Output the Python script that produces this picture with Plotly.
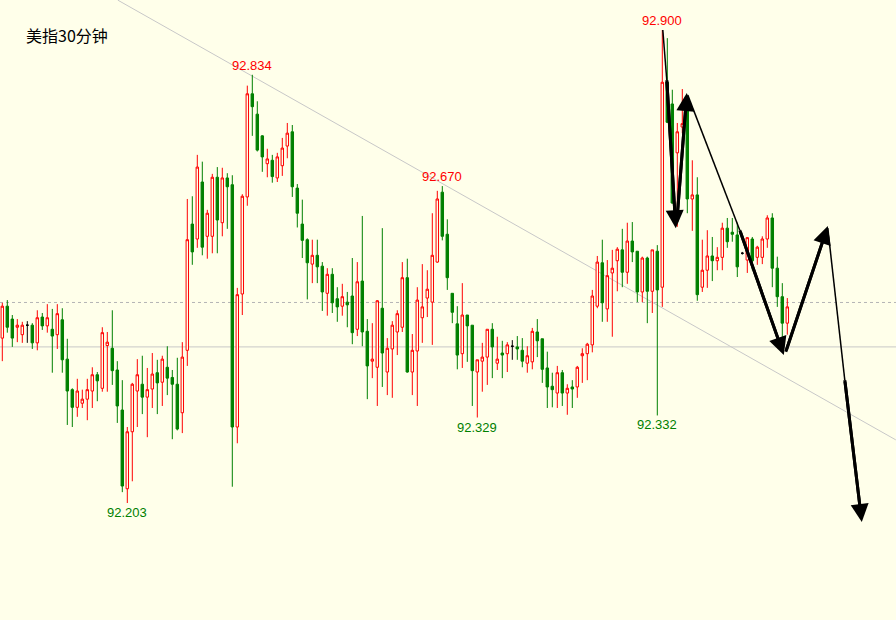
import plotly.graph_objects as go

# ---------------- data (30-minute USD index candles) ----------------
title_text = "美指30分钟"

open_ = [92.446, 92.493, 92.474, 92.462, 92.451, 92.465, 92.465, 92.439, 92.477, 92.464,
         92.459, 92.451, 92.473, 92.415, 92.370, 92.344, 92.350, 92.356, 92.368, 92.392,
         92.372, 92.435, 92.431, 92.399, 92.340, 92.224, 92.308, 92.368, 92.378, 92.359,
         92.371, 92.395, 92.381, 92.403, 92.388, 92.378, 92.336, 92.428, 92.614, 92.592,
         92.676, 92.596, 92.596, 92.683, 92.616, 92.682, 92.672, 92.315, 92.511, 92.654,
         92.806, 92.776, 92.744, 92.703, 92.708, 92.682, 92.700, 92.729, 92.750, 92.667,
         92.614, 92.591, 92.555, 92.568, 92.552, 92.512, 92.540, 92.504, 92.493, 92.499,
         92.508, 92.459, 92.530, 92.456, 92.412, 92.403, 92.490, 92.396, 92.430, 92.455,
         92.462, 92.535, 92.396, 92.427, 92.476, 92.505, 92.499, 92.558, 92.661, 92.599,
         92.512, 92.467, 92.423, 92.480, 92.465, 92.396, 92.412, 92.418, 92.459, 92.409,
         92.424, 92.423, 92.434, 92.433, 92.428, 92.409, 92.411, 92.455, 92.445, 92.402,
         92.375, 92.365, 92.395, 92.365, 92.374, 92.374, 92.420, 92.423, 92.436, 92.493,
         92.557, 92.489, 92.542, 92.560, 92.576, 92.543, 92.589, 92.574, 92.514, 92.564,
         92.515, 92.574, 92.521, 92.823, 92.791, 92.719, 92.757, 92.792, 92.651, 92.657,
         92.521, 92.546, 92.567, 92.560, 92.565, 92.608, 92.602, 92.598, 92.571, 92.561,
         92.592, 92.565, 92.565, 92.592, 92.623, 92.549, 92.507, 92.468]

high = [92.498, 92.502, 92.480, 92.474, 92.470, 92.471, 92.468, 92.487, 92.483, 92.496,
        92.489, 92.496, 92.490, 92.445, 92.372, 92.386, 92.370, 92.386, 92.403, 92.396,
        92.462, 92.455, 92.487, 92.412, 92.384, 92.315, 92.380, 92.415, 92.420, 92.402,
        92.424, 92.414, 92.420, 92.434, 92.399, 92.417, 92.440, 92.651, 92.655, 92.716,
        92.706, 92.635, 92.688, 92.698, 92.697, 92.689, 92.686, 92.520, 92.658, 92.818,
        92.834, 92.795, 92.745, 92.725, 92.716, 92.719, 92.741, 92.763, 92.760, 92.673,
        92.650, 92.593, 92.591, 92.591, 92.558, 92.549, 92.549, 92.521, 92.526, 92.514,
        92.564, 92.558, 92.626, 92.474, 92.468, 92.502, 92.608, 92.446, 92.471, 92.487,
        92.558, 92.563, 92.452, 92.521, 92.555, 92.546, 92.630, 92.663, 92.670, 92.621,
        92.512, 92.493, 92.527, 92.480, 92.465, 92.414, 92.439, 92.459, 92.468, 92.448,
        92.442, 92.440, 92.443, 92.449, 92.446, 92.434, 92.461, 92.474, 92.445, 92.426,
        92.395, 92.405, 92.399, 92.378, 92.384, 92.405, 92.431, 92.439, 92.517, 92.567,
        92.591, 92.561, 92.576, 92.580, 92.607, 92.616, 92.617, 92.574, 92.566, 92.566,
        92.576, 92.583, 92.900, 92.888, 92.812, 92.763, 92.813, 92.803, 92.708, 92.683,
        92.591, 92.605, 92.595, 92.580, 92.616, 92.623, 92.623, 92.616, 92.573, 92.595,
        92.595, 92.582, 92.596, 92.627, 92.630, 92.566, 92.527, 92.505]

low = [92.412, 92.454, 92.433, 92.440, 92.439, 92.439, 92.430, 92.428, 92.458, 92.454,
       92.395, 92.430, 92.395, 92.318, 92.315, 92.330, 92.343, 92.325, 92.343, 92.353,
       92.367, 92.367, 92.377, 92.321, 92.219, 92.203, 92.235, 92.315, 92.334, 92.300,
       92.343, 92.334, 92.346, 92.362, 92.297, 92.310, 92.306, 92.405, 92.554, 92.579,
       92.568, 92.563, 92.571, 92.571, 92.596, 92.607, 92.227, 92.291, 92.480, 92.641,
       92.744, 92.721, 92.691, 92.683, 92.675, 92.676, 92.685, 92.711, 92.654, 92.609,
       92.564, 92.503, 92.527, 92.527, 92.486, 92.479, 92.483, 92.470, 92.479, 92.462,
       92.437, 92.449, 92.434, 92.356, 92.387, 92.346, 92.374, 92.362, 92.358, 92.421,
       92.455, 92.395, 92.362, 92.346, 92.439, 92.477, 92.436, 92.557, 92.590, 92.517,
       92.468, 92.400, 92.402, 92.411, 92.346, 92.329, 92.367, 92.377, 92.387, 92.399,
       92.387, 92.396, 92.414, 92.414, 92.403, 92.395, 92.400, 92.418, 92.380, 92.343,
       92.344, 92.343, 92.346, 92.333, 92.343, 92.358, 92.380, 92.384, 92.425, 92.490,
       92.470, 92.470, 92.448, 92.515, 92.521, 92.526, 92.558, 92.499, 92.499, 92.468,
       92.483, 92.332, 92.492, 92.763, 92.644, 92.610, 92.748, 92.630, 92.604, 92.501,
       92.514, 92.520, 92.530, 92.546, 92.546, 92.579, 92.588, 92.536, 92.569, 92.542,
       92.546, 92.554, 92.555, 92.579, 92.521, 92.492, 92.428, 92.451]

close = [92.493, 92.462, 92.446, 92.465, 92.465, 92.465, 92.439, 92.476, 92.464, 92.476,
         92.449, 92.482, 92.414, 92.368, 92.344, 92.368, 92.356, 92.370, 92.392, 92.383,
         92.454, 92.440, 92.398, 92.346, 92.228, 92.308, 92.378, 92.392, 92.359, 92.370,
         92.393, 92.380, 92.415, 92.387, 92.378, 92.312, 92.418, 92.591, 92.573, 92.698,
         92.580, 92.630, 92.683, 92.620, 92.682, 92.669, 92.315, 92.510, 92.655, 92.806,
         92.787, 92.723, 92.713, 92.710, 92.684, 92.713, 92.726, 92.748, 92.669, 92.630,
         92.590, 92.557, 92.568, 92.551, 92.514, 92.540, 92.498, 92.492, 92.507, 92.495,
         92.454, 92.529, 92.455, 92.405, 92.415, 92.501, 92.424, 92.431, 92.465, 92.482,
         92.535, 92.396, 92.428, 92.502, 92.492, 92.518, 92.568, 92.651, 92.596, 92.535,
         92.484, 92.421, 92.480, 92.464, 92.398, 92.414, 92.418, 92.459, 92.433, 92.415,
         92.421, 92.436, 92.434, 92.430, 92.412, 92.420, 92.456, 92.442, 92.400, 92.374,
         92.370, 92.395, 92.365, 92.372, 92.371, 92.403, 92.423, 92.437, 92.508, 92.558,
         92.498, 92.538, 92.549, 92.577, 92.543, 92.589, 92.573, 92.514, 92.564, 92.515,
         92.576, 92.517, 92.823, 92.764, 92.645, 92.750, 92.762, 92.651, 92.657, 92.510,
         92.546, 92.567, 92.560, 92.565, 92.608, 92.588, 92.599, 92.551, 92.571, 92.594,
         92.560, 92.580, 92.592, 92.623, 92.549, 92.507, 92.468, 92.492]

# labelled extremes (candle indices)
high_label_idx = [50, 88, 132]
low_label_idx = [25, 95, 131]

# reference levels and drawn trend line (candle index, price)
level_dotted = 92.4985
level_solid = 92.433
trend_line = [(23.1, 92.944), (178.7, 92.296)]

# hand-drawn forecast arrows: (thin tail start, thick start, head)
arrow_paths = [
    [(132.1, 92.900), (132.9, 92.826), (134.7, 92.608)],
    [None, (134.9, 92.617), (136.9, 92.807)],
    [(137.1, 92.804), (147.5, 92.605), (156.3, 92.421)],
    [None, (156.7, 92.426), (165.1, 92.611)],
    [(165.1, 92.608), (168.5, 92.384), (171.9, 92.175)],
]

# ---------------- styling ----------------
BG = "#FFFFEA"
UP = "#FF0000"
DOWN = "#008000"
DOJI = "#000000"

x = list(range(len(open_)))
up_idx = [i for i in x if close[i] > open_[i]]
dn_idx = [i for i in x if close[i] < open_[i]]
dj_idx = [i for i in x if close[i] == open_[i]]


def sub(idx):
    return dict(x=[x[i] for i in idx], open=[open_[i] for i in idx],
                high=[high[i] for i in idx], low=[low[i] for i in idx],
                close=[close[i] for i in idx])


fig = go.Figure()
fig.add_trace(go.Candlestick(**sub(up_idx),
                             increasing=dict(line=dict(color=UP, width=1), fillcolor=BG),
                             decreasing=dict(line=dict(color=UP, width=1), fillcolor=BG),
                             whiskerwidth=0, hoverinfo="skip"))
fig.add_trace(go.Candlestick(**sub(dn_idx),
                             increasing=dict(line=dict(color=DOWN, width=1), fillcolor=DOWN),
                             decreasing=dict(line=dict(color=DOWN, width=1), fillcolor=DOWN),
                             whiskerwidth=0, hoverinfo="skip"))
fig.add_trace(go.Candlestick(**sub(dj_idx),
                             increasing=dict(line=dict(color=DOJI, width=1), fillcolor=DOJI),
                             decreasing=dict(line=dict(color=DOJI, width=1), fillcolor=DOJI),
                             whiskerwidth=0, hoverinfo="skip"))

shapes = [
    dict(type="line", xref="paper", x0=0, x1=1, yref="y", y0=level_dotted, y1=level_dotted,
         line=dict(color="#B4B4B4", width=1, dash="dot"), layer="below"),
    dict(type="line", xref="paper", x0=0, x1=1, yref="y", y0=level_solid, y1=level_solid,
         line=dict(color="#C8C8C8", width=1), layer="below"),
    dict(type="line", xref="x", yref="y", x0=trend_line[0][0], y0=trend_line[0][1],
         x1=trend_line[1][0], y1=trend_line[1][1],
         line=dict(color="#C8C8C8", width=1), layer="below"),
]

annotations = []
for tail, mid, head in arrow_paths:
    if tail is not None:
        shapes.append(dict(type="line", xref="x", yref="y", x0=tail[0], y0=tail[1],
                           x1=mid[0], y1=mid[1], line=dict(color="#000000", width=1.5)))
    # thick shaft (continuous), arrowhead drawn by annotation
    hx = mid[0] + 0.9 * (head[0] - mid[0])
    hy = mid[1] + 0.9 * (head[1] - mid[1])
    shapes.append(dict(type="line", xref="x", yref="y", x0=mid[0], y0=mid[1],
                       x1=hx, y1=hy, line=dict(color="#000000", width=3)))
    annotations.append(dict(x=head[0], y=head[1], ax=mid[0], ay=mid[1],
                            xref="x", yref="y", axref="x", ayref="y", text="",
                            showarrow=True, arrowhead=2, arrowsize=1.2, arrowwidth=3,
                            arrowcolor="#000000", standoff=0, startstandoff=0))

label_font = "Liberation Sans, Arial, sans-serif"
for i in high_label_idx:
    annotations.append(dict(x=i, y=high[i], xref="x", yref="y", text=f"{high[i]:.3f}",
                            showarrow=False, yanchor="bottom", xanchor="center",
                            font=dict(family=label_font, size=13, color=UP)))
for i in low_label_idx:
    annotations.append(dict(x=i, y=low[i], xref="x", yref="y", text=f"{low[i]:.3f}",
                            showarrow=False, yanchor="top", xanchor="center",
                            font=dict(family=label_font, size=13, color=DOWN)))

annotations.append(dict(x=24 / 896, y=1 - 35 / 620, xref="paper", yref="paper",
                        text=title_text, showarrow=False, xanchor="left", yanchor="middle",
                        font=dict(family="Noto Sans CJK SC, sans-serif", size=16, color="#000000")))

fig.update_layout(
    width=896, height=620,
    margin=dict(l=0, r=0, t=0, b=0),
    paper_bgcolor=BG, plot_bgcolor=BG,
    showlegend=False,
    boxgap=0.3,
    shapes=shapes,
    annotations=annotations,
    xaxis=dict(range=[-0.46, 178.74], visible=False, rangeslider=dict(visible=False),
               fixedrange=True),
    yaxis=dict(range=[92.0306, 92.9442], visible=False, fixedrange=True),
)

fig.write_html("out.html", config={"displayModeBar": False},
               post_script="document.body.style.margin='0';document.body.style.background='" + BG + "';")
